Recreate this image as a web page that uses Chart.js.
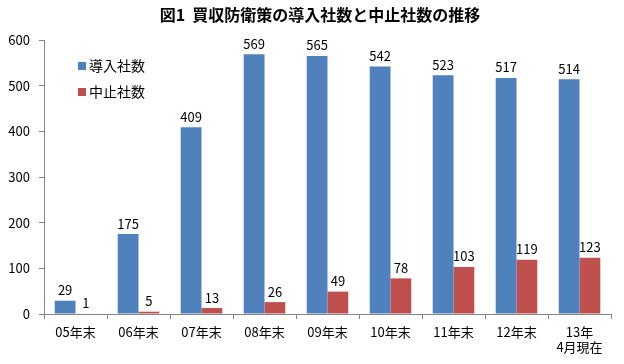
<!DOCTYPE html>
<html lang="ja">
<head>
<meta charset="utf-8">
<title>図1</title>
<script src="https://cdn.jsdelivr.net/npm/chart.js@4.4.0/dist/chart.umd.min.js"></script>
<style>
  html, body { margin: 0; padding: 0; background: #fff; }
  #wrap { width: 624px; height: 364px; }
</style>
</head>
<body>
<div id="wrap"><canvas id="myChart"></canvas></div>
<script>
  // data
  const categories = ['05年末', '06年末', '07年末', '08年末', '09年末', '10年末', '11年末', '12年末', ['13年', '4月現在']];
  const introduced = [29, 175, 409, 569, 565, 542, 523, 517, 514];
  const stopped = [1, 5, 13, 26, 49, 78, 103, 119, 123];
  const yTicks = [0, 100, 200, 300, 400, 500, 600];

  const titleText = '図1  買収防衛策の導入社数と中止社数の推移';
  const fontJP = '"Noto Sans CJK JP", "Noto Sans", sans-serif';
  const axisColor = '#868686';

  // title, legend inside plot and value labels
  const extras = {
    id: 'extras',
    afterDatasetsDraw(chart) {
      const ctx = chart.ctx;
      ctx.save();
      ctx.fillStyle = '#000';
      ctx.font = 'bold 16px ' + fontJP;
      ctx.textAlign = 'center';
      ctx.textBaseline = 'middle';
      ctx.fillText(titleText, 320, 15);

      // value labels
      ctx.font = '13px ' + fontJP;
      ctx.textBaseline = 'bottom';
      chart.data.datasets.forEach((ds, i) => {
        chart.getDatasetMeta(i).data.forEach((bar, j) => {
          ctx.fillText(ds.data[j], bar.x, bar.y - 4);
        });
      });

      // legend
      ctx.textAlign = 'left';
      ctx.textBaseline = 'middle';
      ctx.font = '14px ' + fontJP;
      chart.data.datasets.forEach((ds, i) => {
        const y = 66 + i * 26;
        ctx.fillStyle = ds.backgroundColor;
        ctx.fillRect(78, y - 4, 8, 8);
        ctx.fillStyle = '#000';
        ctx.fillText(ds.label, 89, y);
      });
      ctx.restore();
    }
  };

  new Chart(document.getElementById('myChart'), {
    type: 'bar',
    data: {
      labels: categories,
      datasets: [
        { label: '導入社数', data: introduced, backgroundColor: '#4F81BD' },
        { label: '中止社数', data: stopped, backgroundColor: '#C0504D' }
      ]
    },
    options: {
      responsive: true,
      maintainAspectRatio: false,
      animation: false,
      layout: { padding: { left: 0, right: 13, top: 40, bottom: 0 } },
      datasets: { bar: { categoryPercentage: 0.66, barPercentage: 1.0 } },
      plugins: {
        legend: { display: false },
        title: { display: false },
        tooltip: { enabled: false }
      },
      scales: {
        x: {
          afterFit(scale) { scale.height = 50; },
          grid: { offset: true, drawOnChartArea: false, drawTicks: true, tickLength: 5, color: axisColor },
          border: { color: axisColor },
          ticks: { color: '#000', font: { family: fontJP, size: 13 }, padding: 5 }
        },
        y: {
          min: 0,
          max: 600,
          afterFit(scale) { scale.width = 44; },
          afterBuildTicks(scale) { scale.ticks = yTicks.map(v => ({ value: v })); },
          grid: { drawOnChartArea: false, drawTicks: true, tickLength: 5, color: axisColor },
          border: { color: axisColor },
          ticks: { color: '#000', font: { family: fontJP, size: 13 }, padding: 9 }
        }
      }
    },
    plugins: [extras]
  });
</script>
</body>
</html>
